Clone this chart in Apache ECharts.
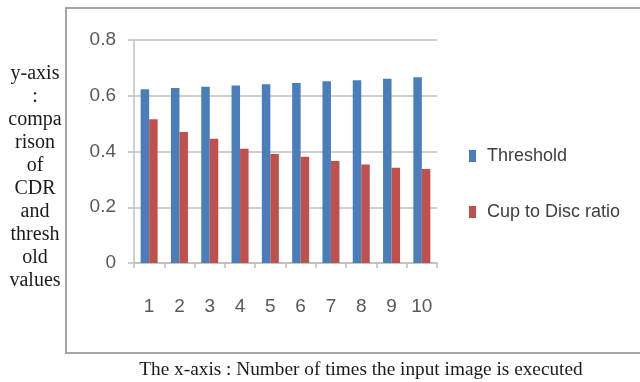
<!DOCTYPE html>
<html>
<head>
<meta charset="utf-8">
<script src="https://cdn.jsdelivr.net/npm/echarts@6/dist/echarts.min.js"></script>
<style>
html,body{margin:0;padding:0;background:#fff;}
#chart{width:640px;height:382px;}
</style>
</head>
<body>
<div id="chart"></div>
<script>
var categories = ['1','2','3','4','5','6','7','8','9','10'];
var thresholdValues = [0.623, 0.628, 0.632, 0.637, 0.641, 0.646, 0.652, 0.656, 0.661, 0.666];
var cdrValues = [0.516, 0.470, 0.446, 0.410, 0.391, 0.381, 0.366, 0.353, 0.342, 0.337];
var seriesNames = ['Threshold', 'Cup to Disc ratio'];
var yTitleLines = ['y-axis', ':', 'compa', 'rison', 'of', 'CDR', 'and', 'thresh', 'old', 'values'];
var xCaption = 'The x-axis : Number of times the input image is executed';

var sans = '"Liberation Sans", Arial, sans-serif';
var serif = '"Liberation Serif", "DejaVu Serif", serif';

var chart = echarts.init(document.getElementById('chart'), null, {renderer: 'canvas'});
chart.setOption({
  animation: false,
  backgroundColor: '#fff',
  color: ['#4a7ebb', '#c0504d'],
  grid: {left: 134, right: 203, top: 40, bottom: 119},
  legend: {
    orient: 'vertical',
    left: 464,
    top: 142,
    itemWidth: 7,
    itemHeight: 12,
    itemGap: 38,
    icon: 'rect',
    textStyle: {fontFamily: sans, fontSize: 18, color: '#404040', padding: [0,0,0,6]},
    data: seriesNames
  },
  xAxis: {
    type: 'category',
    data: categories,
    axisLine: {lineStyle: {color: '#bfbfbf', width: 1.5}},
    axisTick: {show: true, length: 5, lineStyle: {color: '#bfbfbf', width: 1.5}},
    axisLabel: {interval: 0, fontFamily: sans, fontSize: 19, color: '#595959', margin: 34}
  },
  yAxis: {
    type: 'value',
    min: 0, max: 0.8, interval: 0.2,
    axisLine: {show: true, lineStyle: {color: '#bfbfbf', width: 1.5}},
    axisTick: {show: true, length: 6, lineStyle: {color: '#bfbfbf', width: 1.5}},
    splitLine: {lineStyle: {color: '#bfbfbf', width: 1.5}},
    axisLabel: {fontFamily: sans, fontSize: 19, color: '#595959', margin: 18,
      formatter: function(v){ return v === 0 ? '0' : String(Math.round(v*10)/10); }}
  },
  series: [
    {name: seriesNames[0], type: 'bar', data: thresholdValues, barWidth: 8.5, barGap: '0%'},
    {name: seriesNames[1], type: 'bar', data: cdrValues, barWidth: 8.5, barGap: '0%'}
  ],
  graphic: [
    {type: 'rect', shape: {x: 66, y: 8, width: 600, height: 345}, style: {fill: 'none', stroke: '#a6a6a6', lineWidth: 2}, silent: true, z: -10},
    {type: 'text', x: 35, y: 62, style: {text: yTitleLines.join('\n'), fontFamily: serif, fontSize: 20, lineHeight: 23, fill: '#1a1a1a', align: 'center', verticalAlign: 'top'}},
    {type: 'text', x: 361, y: 370, style: {text: xCaption, fontFamily: serif, fontSize: 19.3, fill: '#1a1a1a', align: 'center', verticalAlign: 'middle'}}
  ]
});
</script>
</body>
</html>
